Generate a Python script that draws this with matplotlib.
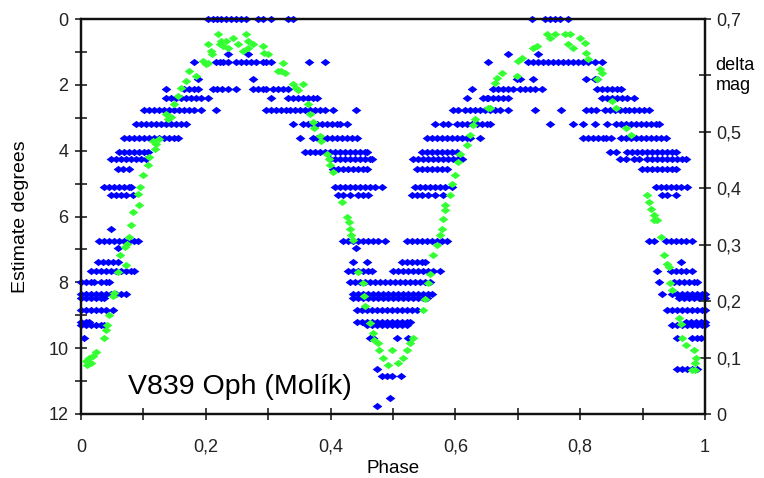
import matplotlib
matplotlib.use("Agg")
import matplotlib.pyplot as plt
from matplotlib.ticker import FixedLocator

# green points: phase and delta mag (right axis)
green_phase = [0.008, 0.010, 0.013, 0.016, 0.019, 0.024, 0.037, 0.040, 0.041, 0.045, 0.051, 0.053,
               0.059, 0.062, 0.072, 0.070, 0.073, 0.077, 0.080, 0.083, 0.093, 0.091, 0.094, 0.099,
               0.107, 0.109, 0.115, 0.118, 0.120, 0.125, 0.136, 0.140, 0.144, 0.149, 0.155, 0.160,
               0.168, 0.173, 0.184, 0.195, 0.200, 0.203, 0.208, 0.210, 0.204, 0.219, 0.222, 0.224,
               0.228, 0.232, 0.236, 0.244, 0.251, 0.264, 0.267, 0.268, 0.260, 0.275, 0.292, 0.294,
               0.300, 0.316, 0.320, 0.323, 0.327, 0.339, 0.344, 0.347, 0.355, 0.363, 0.367, 0.372,
               0.374, 0.383, 0.385, 0.395, 0.397, 0.399, 0.404, 0.419, 0.427, 0.429, 0.431, 0.433,
               0.436, 0.444, 0.452, 0.454, 0.455, 0.463, 0.468, 0.470, 0.476, 0.478, 0.484, 0.492,
               0.498, 0.508, 0.516, 0.522, 0.527, 0.532, 0.548, 0.551, 0.556, 0.559, 0.564, 0.570,
               0.575, 0.578, 0.580, 0.583, 0.583, 0.591, 0.594, 0.599, 0.604, 0.607, 0.618, 0.623,
               0.628, 0.631, 0.652, 0.655, 0.663, 0.666, 0.674, 0.698, 0.700, 0.706, 0.724, 0.730,
               0.746, 0.752, 0.759, 0.775, 0.783, 0.780, 0.788, 0.799, 0.807, 0.810, 0.812, 0.831,
               0.835, 0.827, 0.851, 0.858, 0.874, 0.882, 0.907, 0.911, 0.914, 0.919, 0.919, 0.923,
               0.930, 0.935, 0.939, 0.942, 0.944, 0.947, 0.958, 0.962, 0.963, 0.970, 0.982, 0.986,
               0.984, 0.984, 0.979]
green_mag = [0.094, 0.086, 0.100, 0.090, 0.103, 0.110, 0.135, 0.148, 0.157, 0.175, 0.210, 0.214,
             0.251, 0.281, 0.264, 0.296, 0.302, 0.313, 0.335, 0.358, 0.371, 0.390, 0.403, 0.424,
             0.442, 0.456, 0.483, 0.470, 0.478, 0.488, 0.531, 0.522, 0.527, 0.549, 0.563, 0.577,
             0.590, 0.607, 0.599, 0.625, 0.620, 0.622, 0.643, 0.638, 0.656, 0.673, 0.656, 0.661,
             0.652, 0.661, 0.648, 0.666, 0.656, 0.673, 0.661, 0.648, 0.643, 0.656, 0.652, 0.640,
             0.638, 0.607, 0.607, 0.622, 0.604, 0.584, 0.578, 0.575, 0.584, 0.549, 0.531, 0.518,
             0.506, 0.492, 0.483, 0.460, 0.452, 0.442, 0.429, 0.376, 0.349, 0.340, 0.328, 0.317,
             0.308, 0.251, 0.233, 0.210, 0.192, 0.162, 0.144, 0.132, 0.126, 0.114, 0.100, 0.087,
             0.114, 0.091, 0.100, 0.114, 0.126, 0.135, 0.185, 0.203, 0.233, 0.248, 0.281, 0.299,
             0.317, 0.328, 0.346, 0.362, 0.371, 0.388, 0.408, 0.424, 0.447, 0.460, 0.477, 0.495,
             0.513, 0.522, 0.542, 0.542, 0.586, 0.596, 0.604, 0.599, 0.625, 0.631, 0.648, 0.652,
             0.673, 0.666, 0.673, 0.673, 0.673, 0.656, 0.648, 0.666, 0.657, 0.640, 0.629, 0.611,
             0.604, 0.593, 0.554, 0.542, 0.506, 0.495, 0.388, 0.376, 0.363, 0.353, 0.344, 0.344,
             0.313, 0.281, 0.265, 0.260, 0.233, 0.219, 0.171, 0.159, 0.135, 0.123, 0.114, 0.100,
             0.091, 0.078, 0.078]

# blue points: estimate levels (degrees) and the phases seen at each level
blue_levels = [0.0, 1.07, 1.31, 1.83, 2.14, 2.41, 2.75, 3.18, 3.63, 4.03, 4.24, 4.55, 5.10, 5.34,
               6.38, 6.75, 6.96, 7.39, 7.66, 8.0, 8.34, 8.49, 8.85, 9.19, 9.31, 9.68, 10.63, 10.84,
               11.51, 11.76]
blue_phases = [
    [.204, .211, .218, .224, .232, .240, .248, .256, .264, .283, .291, .304, .331, .339, .722, .743, .751, .759, .767, .780],
    [.235, .267, .684, .732],
    [.181, .216, .222, .228, .236, .248, .256, .264, .272, .280, .291, .296, .304, .366, .391, .652, .716, .724, .732, .740,
     .748, .756, .764, .772, .780, .788, .796, .804, .812, .823, .835],
    [.188, .276, .698, .703, .724, .810, .823, .827],
    [.136, .165, .173, .181, .188, .211, .218, .226, .236, .248, .275, .283, .291, .296, .307, .315, .323, .332, .626, .660,
     .668, .676, .684, .692, .703, .711, .719, .727, .738, .827, .835, .843, .851, .859, .866],
    [.136, .144, .152, .160, .168, .176, .184, .192, .203, .304, .331, .339, .347, .355, .363, .371, .379, .618, .650, .644,
     .652, .660, .668, .676, .684, .835, .843, .851, .859, .867, .875, .887],
    [.101, .109, .117, .125, .133, .141, .149, .157, .165, .173, .181, .192, .216, .296, .304, .312, .320, .328, .335, .343,
     .351, .359, .367, .375, .383, .391, .404, .441, .596, .604, .615, .623, .631, .639, .647, .655, .663, .671, .684, .727,
     .770, .810, .818, .826, .839, .847, .855, .863, .871, .879, .887, .895, .903, .911],
    [.088, .096, .104, .112, .120, .128, .136, .144, .152, .160, .168, .340, .355, .363, .371, .379, .387, .395, .403, .411,
     .415, .427, .567, .580, .588, .602, .610, .618, .626, .634, .642, .650, .655, .751, .788, .804, .823, .843, .858, .866,
     .874, .882, .890, .898, .906, .914, .922, .927],
    [.069, .077, .085, .093, .101, .109, .117, .125, .133, .141, .149, .155, .351, .371, .379, .387, .395, .403, .411, .419,
     .427, .435, .442, .554, .562, .570, .578, .586, .594, .602, .610, .618, .623, .639, .804, .812, .820, .828, .836, .842,
     .850, .866, .874, .882, .890, .898, .906, .914, .922, .930, .938],
    [.061, .069, .077, .085, .093, .101, .107, .359, .367, .375, .383, .391, .399, .407, .415, .423, .431, .439, .447, .455,
     .458, .546, .554, .562, .570, .578, .586, .594, .602, .847, .858, .875, .883, .891, .899, .907, .915, .923, .931, .939,
     .947, .954],
    [.048, .056, .064, .072, .080, .088, .096, .104, .399, .407, .415, .423, .431, .439, .447, .455, .463, .466, .532, .540,
     .548, .556, .564, .572, .580, .588, .596, .604, .610, .863, .874, .887, .895, .907, .915, .923, .931, .939, .947, .955,
     .963, .970],
    [.059, .067, .077, .404, .412, .420, .428, .436, .444, .452, .458, .538, .546, .554, .562, .570, .578, .586, .899, .907,
     .915, .923, .931, .939, .947, .954],
    [.037, .045, .053, .061, .069, .077, .080, .407, .415, .423, .431, .439, .447, .455, .463, .471, .482, .535, .543, .551,
     .559, .567, .575, .583, .594, .922, .930, .938, .946, .954, .962, .971],
    [.048, .056, .064, .072, .083, .412, .420, .431, .444, .452, .460, .530, .538, .546, .556, .567, .580, .931, .939, .954],
    [.048],
    [.029, .037, .045, .053, .061, .069, .077, .085, .091, .420, .428, .436, .444, .452, .460, .468, .476, .487, .522, .530,
     .538, .546, .554, .562, .570, .578, .586, .911, .919, .938, .946, .954, .962, .970, .979],
    [.059, .441],
    [.027, .035, .043, .051, .059, .436, .458, .514, .522, .530, .538, .546, .551, .962],
    [.016, .024, .032, .040, .048, .056, .064, .072, .080, .085, .428, .436, .444, .452, .460, .466, .500, .508, .516, .524,
     .532, .540, .548, .556, .564, .575, .923, .946, .954, .962, .970, .979],
    [.000, .008, .016, .021, .032, .040, .045, .431, .439, .447, .455, .463, .471, .479, .487, .495, .503, .511, .519, .527,
     .535, .543, .551, .559, .927, .950, .958, .966, .974, .982, .987],
    [.000, .008, .016, .024, .032, .040, .048, .056, .064, .072, .436, .444, .452, .460, .468, .476, .484, .492, .500, .508,
     .516, .524, .532, .540, .548, .556, .562, .931, .947, .955, .963, .971, .979, .987, .995, 1.0],
    [.000, .008, .016, .024, .032, .037, .436, .444, .452, .460, .468, .476, .484, .492, .500, .508, .516, .524, .532, .540,
     .548, .554, .958, .966, .974, .982, .990, 1.0],
    [.000, .008, .016, .024, .032, .040, .051, .442, .450, .458, .466, .474, .482, .490, .498, .506, .514, .522, .530, .538,
     .939, .947, .955, .963, .971, .979, .987, .995, 1.0],
    [.000, .008, .013, .442, .450, .458, .466, .474, .482, .490, .498, .506, .514, .522, .527, .970, .978, .986, .994, 1.0],
    [.000, .008, .016, .024, .032, .037, .458, .466, .474, .482, .490, .498, .506, .514, .522, .947, .955, .963, .971, .979,
     .987, .995, 1.0],
    [.005, .463, .468, .506, .524, .955, .979, .987, .994],
    [.474, .955, .963, .971, .979, .987],
    [.482, .490, .498, .513],
    [.495],
    [.474],
]

x_ticks = [0, 0.2, 0.4, 0.6, 0.8, 1.0]
x_labels = ["0", "0,2", "0,4", "0,6", "0,8", "1"]
left_ticks = [0, 2, 4, 6, 8, 10, 12]
right_ticks = [0, 0.1, 0.2, 0.3, 0.4, 0.5, 0.6, 0.7]
right_labels = ["0", "0,1", "0,2", "0,3", "0,4", "0,5", "", "0,7"]

font = ["Liberation Sans", "DejaVu Sans"]
diamond = [(-1, 0), (0, 0.75), (1, 0), (0, -0.75), (-1, 0)]

fig = plt.figure(figsize=(7.64, 4.78), dpi=100)
ax = fig.add_axes([81 / 764, 64 / 478, 624 / 764, 395 / 478])

bx, by = [], []
for lvl, ph in zip(blue_levels, blue_phases):
    bx += ph
    by += [lvl] * len(ph)
ax.plot(bx, by, linestyle="none", marker=diamond, markersize=7, color="#0000ff",
        markeredgewidth=0, clip_on=False, zorder=3)

ax.set_xlim(0, 1)
ax.set_ylim(12, 0)
ax.set_xticks(x_ticks)
ax.set_xticklabels(x_labels, family=font, fontsize=13)
ax.xaxis.set_minor_locator(FixedLocator([0.1, 0.3, 0.5, 0.7, 0.9]))
ax.set_yticks(left_ticks)
ax.set_yticklabels([str(v) for v in left_ticks], family=font, fontsize=13)
ax.yaxis.set_minor_locator(FixedLocator([1, 3, 5, 7, 9, 11]))
ax.tick_params(which="both", direction="inout", length=8, width=1.2, colors="#222222")
ax.tick_params(axis="x", which="both", pad=14)
ax.tick_params(axis="y", which="both", pad=5)
ax.set_xlabel("Phase", family=font, fontsize=13.5, labelpad=3)
ax.set_ylabel("Estimate degrees", family=font, fontsize=14, labelpad=14)
for s in ax.spines.values():
    s.set_linewidth(1.6)
    s.set_color("#111111")

ax2 = ax.twinx()
ax2.plot(green_phase, green_mag, linestyle="none", marker=diamond, markersize=7, color="#33ff33",
         markeredgewidth=0, clip_on=False, zorder=4)
ax2.set_ylim(0, 0.7)
ax2.set_yticks(right_ticks)
ax2.set_yticklabels(right_labels, family=font, fontsize=13)
ax2.tick_params(which="both", direction="inout", length=8, width=1.2, colors="#222222", pad=4)
for s in ax2.spines.values():
    s.set_linewidth(1.6)
    s.set_color("#111111")

ax2.text(1.017, 0.6, "delta\nmag", transform=ax2.get_yaxis_transform(), ha="left", va="center",
         family=font, fontsize=13, linespacing=1.25)
ax.text(0.075, 11.4, "V839 Oph (Molík)", family=font, fontsize=20.5,
        ha="left", va="baseline")

fig.savefig("out.png", dpi=100)
